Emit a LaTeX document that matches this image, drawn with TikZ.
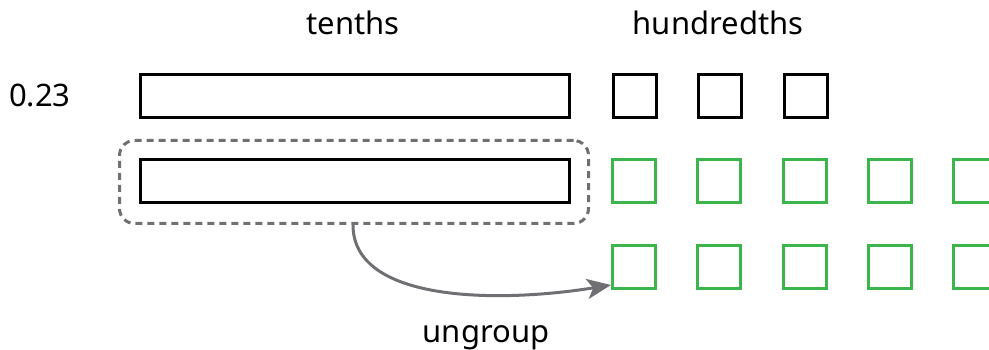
\documentclass[tikz,border=0pt]{standalone}
\usepackage{fontspec}
\setmainfont{Noto Sans}
\usetikzlibrary{arrows.meta,calc}
\definecolor{boxgreen}{RGB}{60,182,76}
\definecolor{linkgray}{RGB}{112,112,116}
\begin{document}
\begin{tikzpicture}[x=1pt,y=-1pt,
  lbl/.style={font=\fontsize{31}{37}\selectfont, inner sep=0pt, anchor=base},
  tenthbar/.style={draw=black, line width=3pt, minimum width=429pt, minimum height=43pt, inner sep=0pt, anchor=north west},
  hsq/.style={draw=black, line width=3pt, minimum size=43pt, inner sep=0pt, anchor=north west},
  gsq/.style={hsq, draw=boxgreen},
  groupbox/.style={draw=linkgray, line width=3pt, dash pattern=on 7pt off 5pt, rounded corners=15pt, inner sep=0pt, anchor=north west},
  ungrouparrow/.style={draw=linkgray, line width=3pt, -{Stealth[length=24pt, width=20pt, inset=6pt]}}
]
\clip (0,0) rectangle (989,350);
\useasboundingbox (0,0) rectangle (989,350);

% column headings and the number
\node[lbl] (tenths) at (353,35) {tenths};
\node[lbl] (hundredths) at (718,35) {hundredths};
\node[lbl, anchor=base west] (num) at (9,107) {0.23};

% first row: 0.23 as 2 tenths + 3 hundredths
\node[tenthbar] (t1) at (139,73) {};
\foreach \i in {0,1,2}
  \node[hsq] (h\i) at ({612+85.3*\i},73) {};

% second and third rows: a tenth and its ten hundredths
\node[tenthbar] (t2) at (139,158) {};
\foreach \i in {0,...,4}
  \node[gsq] (ga\i) at ({611+85.3*\i},158) {};
\foreach \i in {0,...,4}
  \node[gsq] (gb\i) at ({611+85.3*\i},244) {};

% dashed group around the tenth
\node[groupbox, minimum width=469pt, minimum height=83pt] (grp) at (118,139) {};

% arrow from the group to the hundredths
\coordinate (src) at ($(grp.south west)+(235,0)$);
\coordinate (dst) at ($(gb0.south west)+(0,-5)$);
\draw[ungrouparrow] (src) .. controls ($(src)+(0,78)$) and ($(src)+(147,78)$) .. (dst);
\node[lbl] (ungroup) at (486,342) {ungroup};
\end{tikzpicture}
\end{document}
